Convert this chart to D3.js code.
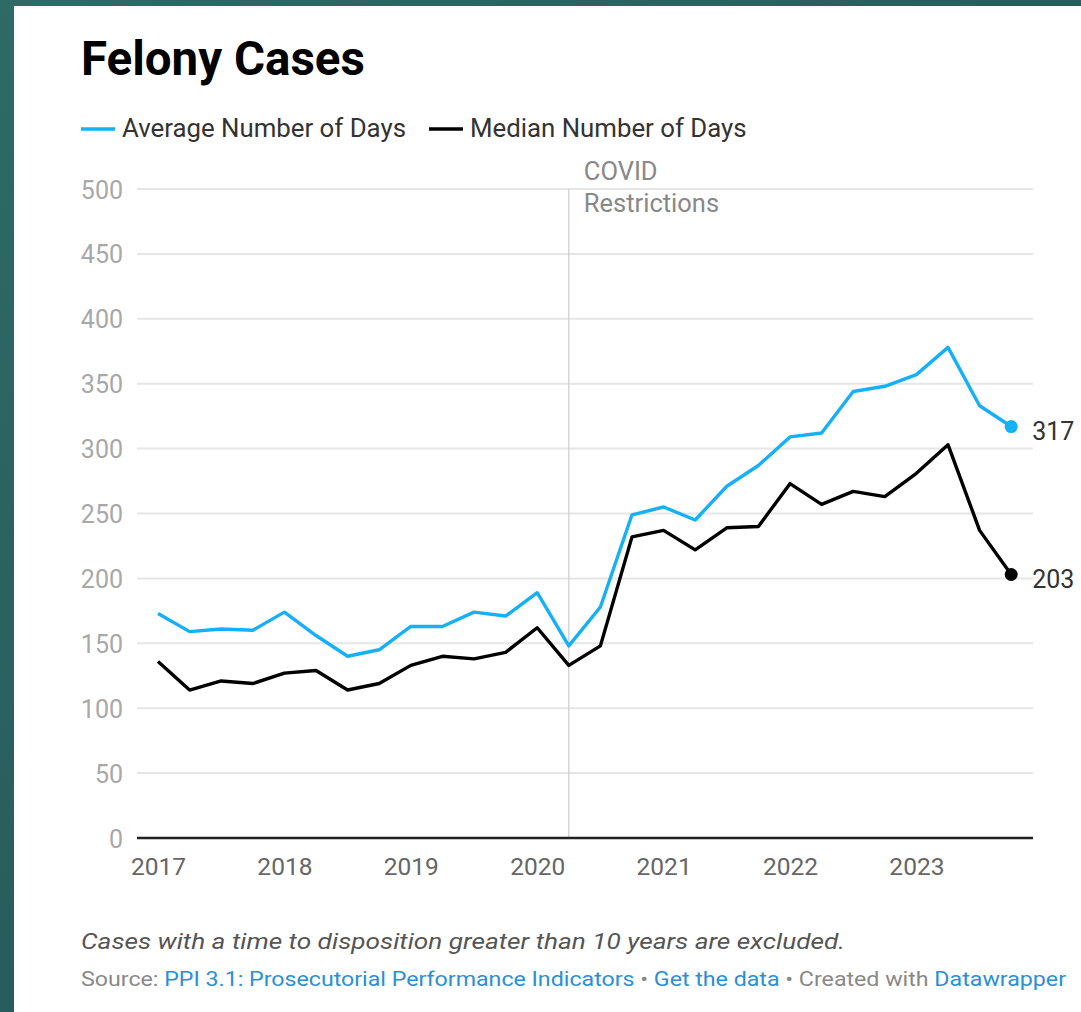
<!DOCTYPE html>
<html>
<head>
<meta charset="utf-8">
<script src="https://cdn.jsdelivr.net/npm/d3@7"></script>
<style>
  html, body { margin: 0; padding: 0; overflow: hidden; background: #2c605e; }
  svg { display: block; font-family: Roboto, sans-serif; }
</style>
</head>
<body>
<div id="container"></div>
<script>
/* DATA */
// quarterly points, 2017 Q1 .. 2023 Q4
const quarters = d3.range(28).map(i => 2017 + i / 4)
const averageDays = [173, 159, 161, 160, 174, 156, 140, 145, 163, 163, 174, 171, 189, 148,
  178, 249, 255, 245, 271, 287, 309, 312, 344, 348, 357, 378, 333, 317]
const medianDays = [136, 114, 121, 119, 127, 129, 114, 119, 133, 140, 138, 143, 162, 133,
  148, 232, 237, 222, 239, 240, 273, 257, 267, 263, 281, 303, 237, 203]
const yearTicks = [2017, 2018, 2019, 2020, 2021, 2022, 2023]
const valueTicks = [0, 50, 100, 150, 200, 250, 300, 350, 400, 450, 500]
const covidStart = 2020.25

const seriesNames = ["Average Number of Days", "Median Number of Days"]
const seriesColors = ["#15b0f8", "#000000"]

/* CONSTANTS */
const width = 1081, height = 1012
const margin = { top: 189, bottom: 174, left: 137, right: 48 }

const svg = d3.select("#container")
  .append("svg")
  .attr("width", width)
  .attr("height", height)

// teal frame + white card
const grad = svg.append("defs").append("linearGradient")
  .attr("id", "bg").attr("x1", 0).attr("y1", 0).attr("x2", 1).attr("y2", 1)
grad.append("stop").attr("offset", 0).attr("stop-color", "#2e6a66")
grad.append("stop").attr("offset", 1).attr("stop-color", "#244f52")
svg.append("rect").attr("width", width).attr("height", height).attr("fill", "url(#bg)")
svg.append("rect").attr("x", 14).attr("y", 6).attr("width", width).attr("height", height).attr("fill", "#fff")

// SCALES
const xScale = d3.scaleLinear()
  .domain([2017, 2023])
  .range([158, 158 + 6 * 126.4])

const yScale = d3.scaleLinear()
  .domain([0, 500])
  .range([height - margin.bottom, margin.top])

const x0 = margin.left, x1 = width - margin.right

// TITLE
svg.append("text")
  .attr("x", 81).attr("y", 75)
  .attr("font-size", 47.5).attr("font-weight", 700)
  .attr("fill", "#000")
  .text("Felony Cases")

// LEGEND
const legend = svg.append("g").attr("transform", "translate(81,129)")
let lx = 0
seriesNames.forEach((name, i) => {
  const g = legend.append("g").attr("transform", `translate(${lx},0)`)
  g.append("line").attr("x1", 0).attr("x2", 34).attr("y1", 0).attr("y2", 0)
    .attr("stroke", seriesColors[i]).attr("stroke-width", 3.5)
  const t = g.append("text").attr("x", 41).attr("y", 8)
    .attr("font-size", 25.8).attr("fill", "#333").text(name)
  lx += 41 + t.node().getComputedTextLength() + 23
})

// GRIDLINES + Y AXIS
const yAxis = d3.axisLeft(yScale).tickValues(valueTicks).tickSize(0).tickPadding(14)
const yg = svg.append("g").attr("transform", `translate(${x0},0)`).call(yAxis)
yg.select(".domain").remove()
yg.selectAll("text").attr("font-size", 25).attr("fill", "#a8a8a8").attr("font-family", "Roboto, sans-serif").attr("dy", "0.36em")

svg.append("g").selectAll("line")
  .data(valueTicks.filter(d => d > 0))
  .join("line")
  .attr("x1", x0).attr("x2", x1)
  .attr("y1", d => yScale(d)).attr("y2", d => yScale(d))
  .attr("stroke", "#e6e6e6").attr("stroke-width", 2)

// COVID annotation
svg.append("line")
  .attr("x1", xScale(covidStart)).attr("x2", xScale(covidStart))
  .attr("y1", yScale(500)).attr("y2", yScale(0))
  .attr("stroke", "#cccccc").attr("stroke-width", 1.2)
const covidText = svg.append("text")
  .attr("x", xScale(covidStart) + 15).attr("y", 180)
  .attr("font-size", 25.5).attr("fill", "#888")
covidText.append("tspan").text("COVID")
covidText.append("tspan").attr("x", xScale(covidStart) + 15).attr("dy", 32).text("Restrictions")

// X AXIS
const xAxis = d3.axisBottom(xScale).tickValues(yearTicks).tickFormat(d3.format("d")).tickSize(0)
const xg = svg.append("g").attr("transform", `translate(0,${yScale(0)})`).call(xAxis)
xg.select(".domain").remove()
xg.selectAll("text").attr("font-size", 24.5).attr("fill", "#666").attr("font-family", "Roboto, sans-serif")
  .attr("y", 37).attr("dy", 0)

svg.append("line")
  .attr("x1", x0).attr("x2", x1)
  .attr("y1", yScale(0)).attr("y2", yScale(0))
  .attr("stroke", "#222").attr("stroke-width", 2.5)

// LINES
const line = d3.line()
  .x((d, i) => xScale(quarters[i]))
  .y(d => yScale(d))

const allSeries = [averageDays, medianDays]
svg.append("g").selectAll("path")
  .data(allSeries)
  .join("path")
  .attr("d", d => line(d))
  .attr("fill", "none")
  .attr("stroke", (d, i) => seriesColors[i])
  .attr("stroke-width", 3.4)
  .attr("stroke-linejoin", "round")

// end dots + value labels
const lastIdx = quarters.length - 1
allSeries.forEach((s, i) => {
  svg.append("circle")
    .attr("cx", xScale(quarters[lastIdx])).attr("cy", yScale(s[lastIdx]))
    .attr("r", 6.5).attr("fill", seriesColors[i])
  svg.append("text")
    .attr("x", xScale(quarters[lastIdx]) + 21).attr("y", yScale(s[lastIdx]) + 4)
    .attr("dy", "0.36em")
    .attr("font-size", 25).attr("fill", "#333")
    .text(s[lastIdx])
})

// NOTES (text in the reference is a little wider than plain Roboto)
svg.append("text")
  .attr("transform", "translate(81,949) scale(1.22,1)")
  .attr("font-size", 21.5).attr("font-style", "italic").attr("fill", "#555")
  .text("Cases with a time to disposition greater than 10 years are excluded.")

const src = svg.append("text")
  .attr("transform", "translate(81,986) scale(1.16,1)")
  .attr("font-size", 20).attr("fill", "#888")
src.append("tspan").text("Source: ")
src.append("tspan").attr("fill", "#2b8fd2").text("PPI 3.1: Prosecutorial Performance Indicators")
src.append("tspan").text(" • ")
src.append("tspan").attr("fill", "#2b8fd2").text("Get the data")
src.append("tspan").text(" • Created with ")
src.append("tspan").attr("fill", "#2b8fd2").text("Datawrapper")
</script>
</body>
</html>
